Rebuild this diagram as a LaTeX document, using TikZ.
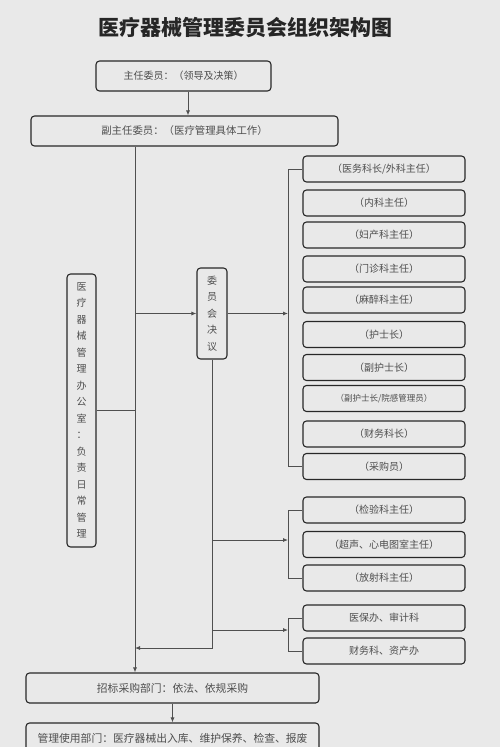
\documentclass[tikz,border=0pt]{standalone}
\usepackage{fontspec}
\newfontfamily\cjk{Noto Sans CJK SC}
\usetikzlibrary{arrows.meta}
\definecolor{pagebg}{RGB}{233,233,233}
\definecolor{boxedge}{RGB}{40,40,40}
\definecolor{textgray}{RGB}{78,78,78}
\definecolor{linegray}{RGB}{80,80,80}

\begin{document}
\begin{tikzpicture}[x=1pt,y=-1pt,>={Latex[length=5pt,width=4pt]},
  unit/.style={draw=boxedge,line width=1.1pt,rounded corners=3.5pt,
    text=textgray,inner sep=0pt,font=\cjk\fontsize{10}{12}\selectfont},
  member/.style={unit,minimum width=162pt,minimum height=26pt},
  column/.style={unit,align=center,font=\cjk\fontsize{10}{16.5}\selectfont},
  dept/.style={unit,minimum width=293pt,minimum height=30pt,
    font=\cjk\fontsize{10.8}{13}\selectfont},
  link/.style={draw=linegray,line width=0.8pt}]
  % --- page ---
  \clip (0,0) rectangle (500,747);
  \fill[pagebg] (0,0) rectangle (500,747);

  % title
  \node[font=\cjk\bfseries\fontsize{21}{24}\selectfont,text=black!85]
    (title) at (245.5,28) {医疗器械管理委员会组织架构图};

  % --- leadership ---
  \node[unit,minimum width=175pt,minimum height=30pt]
    (chair) at (183.5,76) {主任委员：（领导及决策）};
  \node[unit,minimum width=307pt,minimum height=30pt,
    font=\cjk\fontsize{10.4}{12}\selectfont]
    (vice) at (184.5,131) {副主任委员：（医疗管理具体工作）};

  % --- office and committee ---
  \node[column,minimum width=29pt,minimum height=273pt]
    (office) at (81.5,410.5)
    {医\\疗\\器\\械\\管\\理\\办\\公\\室\\：\\负\\责\\日\\常\\管\\理};
  \node[column,minimum width=30pt,minimum height=91pt]
    (board) at (212,313.5) {委\\员\\会\\决\\议};

  % --- committee members ---
  \node[member] (m1) at (384,169) {（医务科长/外科主任）};
  \node[member] (m2) at (384,203) {（内科主任）};
  \node[member] (m3) at (384,235) {（妇产科主任）};
  \node[member] (m4) at (384,269) {（门诊科主任）};
  \node[member] (m5) at (384,300) {（麻醉科主任）};
  \node[member] (m6) at (384,334.5) {（护士长）};
  \node[member] (m7) at (384,367.5) {（副护士长）};
  \node[member,font=\cjk\fontsize{8.5}{10}\selectfont]
    (m8) at (384,398.5) {（副护士长/院感管理员）};
  \node[member] (m9) at (384,434) {（财务科长）};
  \node[member] (m10) at (384,466.5) {（采购员）};
  \node[member] (m11) at (384,510) {（检验科主任）};
  \node[member] (m12) at (384,544.5) {（超声、心电图室主任）};
  \node[member] (m13) at (384,578) {（放射科主任）};
  \node[member] (m14) at (384,618) {医保办、审计科};
  \node[member] (m15) at (384,651) {财务科、资产办};

  % --- executing departments ---
  \node[dept] (bid) at (172.5,688) {招标采购部门：依法、依规采购};
  \node[dept] (use) at (172.5,738) {管理使用部门：医疗器械出入库、维护保养、检查、报废};

  % helper coordinates
  \coordinate (spine) at (135,0);
  \coordinate (brk) at (288,0);
  \coordinate (back) at (212,648);
  \coordinate (tap2) at (212,540);
  \coordinate (tap3) at (212,630);

  % --- connectors ---
  \draw[link,->] ([xshift=4.5pt]chair.south)
    -- ([xshift=4.5pt]chair.south |- vice.north);
  \draw[link,->] (vice.south -| spine) -- (bid.north -| spine);
  \draw[link] (office.east) -- (office.east -| spine);
  \draw[link,->] (board.west -| spine) -- (board.west);
  \draw[link,->] (board.east) -- (board.east -| brk);
  \draw[link,->] (board.south) -- (back) -- (back -| spine);
  \draw[link,->] (tap2) -- (tap2 -| brk);
  \draw[link,->] (tap3) -- (tap3 -| brk);

  % member brackets
  \draw[link] (m1.west) -- (m1.west -| brk) -- (m10.west -| brk) -- (m10.west);
  \draw[link] (m11.west) -- (m11.west -| brk) -- (m13.west -| brk) -- (m13.west);
  \draw[link] (m14.west) -- (m14.west -| brk) -- (m15.west -| brk) -- (m15.west);

  \draw[link,->] (bid.south) -- (use.north);
\end{tikzpicture}
\end{document}
